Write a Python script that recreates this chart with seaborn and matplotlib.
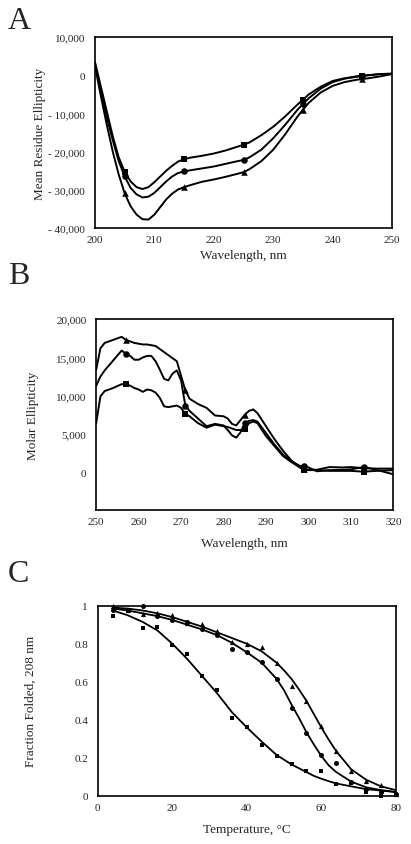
import numpy as np
import pandas as pd
import matplotlib
matplotlib.use("Agg")
import matplotlib.pyplot as plt
import seaborn as sns

############ Data #################
# Panel A - far UV CD spectra
wl_a = [200, 201, 202, 203, 204, 205, 206, 207, 208, 209, 210, 211, 212, 213, 214, 215,
        216, 218, 220, 222, 224, 225, 226, 228, 230, 232, 234, 235, 236, 238, 240, 242,
        244, 245, 246, 248, 250]
a_square = [3500, -3000, -9500, -16000, -21500, -25300, -27800, -29300, -29800, -29300,
            -28000, -26500, -25000, -23700, -22600, -22000, -21600, -21100, -20500, -19700,
            -18700, -18200, -17600, -15700, -13500, -10800, -7800, -6400, -5000, -3000,
            -1500, -800, -300, -100, 0, 300, 400]
a_circle = [3000, -4000, -11000, -17000, -22500, -26500, -29500, -31200, -32000, -31800,
            -30800, -29300, -27800, -26500, -25600, -25200, -24900, -24400, -23900, -23200,
            -22500, -22200, -21500, -19500, -16500, -13000, -9200, -7500, -6000, -3500,
            -1800, -900, -400, -200, 0, 300, 400]
a_triangle = [2500, -5500, -13000, -20000, -26000, -30900, -34300, -36500, -37700, -37800,
              -36500, -34500, -32500, -31000, -29900, -29300, -28800, -27900, -27300, -26600,
              -25800, -25400, -24600, -22500, -19500, -15500, -11000, -9000, -7200, -4500,
              -2800, -1800, -1200, -1000, -800, -300, 300]
a_marks = [205, 215, 225, 235, 245]

# Panel B - near UV CD spectra
wl_b = [250, 251, 252, 254, 256, 257, 258, 259, 260, 261, 262, 263, 264, 265, 266, 267,
        268, 269, 270, 271, 272, 274, 276, 278, 280, 281, 282, 283, 284, 285, 286, 287,
        288, 290, 292, 294, 296, 298, 299, 300, 302, 305, 308, 310, 313, 316, 320]
b_triangle = [13400, 16200, 16900, 17300, 17700, 17300, 17100, 16900, 16800, 16700, 16700,
              16600, 16500, 16100, 15700, 15300, 14900, 14500, 12600, 10700, 9600, 8900,
              8400, 7400, 7300, 7000, 6300, 6100, 6800, 7500, 8000, 8200, 7700, 6000, 4300,
              2800, 1500, 600, 400, 300, 300, 650, 600, 650, 500, 450, 450]
b_circle = [11300, 12500, 13300, 14600, 15900, 15500, 15200, 14700, 14700, 15000, 15200,
            15200, 14500, 13400, 12200, 12000, 12900, 13300, 12000, 8700, 8000, 7000, 6000,
            6300, 6100, 5500, 4800, 4500, 5200, 6400, 6700, 6800, 6600, 5100, 3600, 2300,
            1400, 800, 800, 600, 100, 250, 300, 350, 650, 300, -300]
b_square = [6400, 9900, 10600, 11000, 11500, 11500, 11300, 11000, 10800, 10500, 10800,
            10700, 10400, 9700, 8600, 8500, 8600, 8700, 8400, 7600, 7300, 6400, 5800, 6200,
            6000, 5900, 5700, 5500, 5500, 5600, 6400, 6600, 6400, 4700, 3400, 2100, 1300,
            600, 300, 250, 250, 150, 150, 150, 50, 150, 250]
b_marks = [257, 271, 285, 299, 313]

# Panel C - thermal melts at 208 nm
temp_pts = [4, 8, 12, 16, 20, 24, 28, 32, 36, 40, 44, 48, 52, 56, 60, 64, 68, 72, 76, 80]
c_triangle = [1.0, 0.98, 0.955, 0.96, 0.95, 0.91, 0.905, 0.865, 0.81, 0.80, 0.785, 0.70,
              0.58, 0.50, 0.365, 0.235, 0.13, 0.08, 0.055, 0.01]
c_circle = [0.98, 0.98, 1.0, 0.945, 0.925, 0.915, 0.875, 0.845, 0.77, 0.755, 0.705, 0.615,
            0.46, 0.33, 0.215, 0.175, 0.075, 0.035, 0.02, 0.01]
c_square = [0.945, 0.97, 0.885, 0.89, 0.795, 0.745, 0.63, 0.555, 0.41, 0.36, 0.265, 0.21,
            0.17, 0.13, 0.13, 0.06, 0.07, 0.02, 0.0, 0.005]

# fitted curves
temp_fit = [4, 8, 12, 16, 20, 24, 28, 32, 36, 40, 44, 48, 50, 52, 54, 56, 58, 60, 62, 64,
            68, 72, 76, 80]
fit_triangle = [0.99, 0.985, 0.975, 0.96, 0.94, 0.915, 0.89, 0.86, 0.83, 0.80, 0.76, 0.70,
                0.66, 0.615, 0.56, 0.50, 0.43, 0.36, 0.295, 0.235, 0.14, 0.085, 0.05, 0.03]
fit_circle = [0.985, 0.975, 0.96, 0.945, 0.925, 0.90, 0.875, 0.845, 0.805, 0.755, 0.70,
              0.615, 0.555, 0.48, 0.41, 0.335, 0.27, 0.21, 0.16, 0.125, 0.075, 0.045, 0.03, 0.02]
fit_square = [0.975, 0.95, 0.915, 0.87, 0.80, 0.72, 0.63, 0.54, 0.44, 0.36, 0.285, 0.215,
              0.19, 0.165, 0.145, 0.125, 0.105, 0.09, 0.077, 0.065, 0.05, 0.035, 0.028, 0.02]

########## Style ################
sns.set_style("white")
plt.rcParams['font.family'] = ['Liberation Serif', 'DejaVu Serif']
plt.rcParams['axes.linewidth'] = 1.2

fig = plt.figure(figsize=(4.11, 8.45), dpi=100)
axA = fig.add_axes([0.231, 0.729, 0.723, 0.226])
axB = fig.add_axes([0.234, 0.395, 0.723, 0.226])
axC = fig.add_axes([0.238, 0.057, 0.725, 0.225])

markers = {'square': 's', 'circle': 'o', 'triangle': '^'}
TICK_FS = 8
LABEL_FS = 9.5


def draw_set(ax, x, series, marks, ms):
    for name, y in series.items():
        sns.lineplot(x=x, y=y, ax=ax, color='black', lw=1.4, sort=False, estimator=None)
        idx = [x.index(m) for m in marks]
        sns.scatterplot(x=[x[i] for i in idx], y=[y[i] for i in idx], ax=ax,
                        marker=markers[name], color='black', s=ms, edgecolor='black',
                        linewidth=0, zorder=3)


def style_axes(ax):
    for sp in ax.spines.values():
        sp.set_visible(True)
        sp.set_color('black')
    ax.tick_params(axis='x', direction='in', length=4, width=1, labelsize=TICK_FS, pad=5)
    ax.tick_params(axis='y', direction='out', length=4, width=1, labelsize=TICK_FS, pad=3)
    ax.tick_params(axis='y', which='minor', direction='out', length=4, width=1)


# Panel A
draw_set(axA, wl_a, {'square': a_square, 'circle': a_circle, 'triangle': a_triangle},
         a_marks, 22)
axA.set_xlim(200, 250)
axA.set_ylim(-40000, 10000)
axA.set_xticks([200, 210, 220, 230, 240, 250])
axA.set_yticks([-40000, -30000, -20000, -10000, 0, 10000])
axA.set_yticklabels(['- 40,000', '- 30,000', '- 20,000', '- 10,000', '0', '10,000'])
axA.set_yticks([-35000, -25000, -15000, -5000, 5000], minor=True)
axA.set_xlabel('Wavelength, nm', fontsize=LABEL_FS, labelpad=4)
axA.set_ylabel('Mean Residue Ellipticity', fontsize=LABEL_FS, labelpad=2)
style_axes(axA)

# Panel B
draw_set(axB, wl_b, {'square': b_square, 'circle': b_circle, 'triangle': b_triangle},
         b_marks, 22)
axB.set_xlim(250, 320)
axB.set_ylim(-5000, 20000)
axB.set_xticks([250, 260, 270, 280, 290, 300, 310, 320])
axB.set_yticks([0, 5000, 10000, 15000, 20000])
axB.set_yticklabels(['0', '5,000', '10,000', '15,000', '20,000'])
axB.set_xlabel('Wavelength, nm', fontsize=LABEL_FS, labelpad=8)
axB.set_ylabel('Molar Ellipticity', fontsize=LABEL_FS, labelpad=12)
style_axes(axB)

# Panel C
sizes_c = {'square': 10, 'circle': 13, 'triangle': 14}
for fit in [fit_square, fit_circle, fit_triangle]:
    sns.lineplot(x=temp_fit, y=fit, ax=axC, color='black', lw=1.3, sort=False, estimator=None)
for name, y in {'square': c_square, 'circle': c_circle, 'triangle': c_triangle}.items():
    sns.scatterplot(x=temp_pts, y=y, ax=axC, marker=markers[name], color='black',
                    s=sizes_c[name], edgecolor='black', linewidth=0, zorder=3, clip_on=False)
axC.set_xlim(0, 80)
axC.set_ylim(0, 1)
axC.set_xticks([0, 20, 40, 60, 80])
axC.set_yticks([0, 0.2, 0.4, 0.6, 0.8, 1])
axC.set_yticklabels(['0', '0.2', '0.4', '0.6', '0.8', '1'])
axC.set_xlabel('Temperature, °C', fontsize=LABEL_FS, labelpad=8)
axC.set_ylabel('Fraction Folded, 208 nm', fontsize=LABEL_FS, labelpad=27)
style_axes(axC)

# panel letters
fig.text(0.02, 0.992, 'A', fontsize=23, va='top', ha='left')
fig.text(0.02, 0.690, 'B', fontsize=23, va='top', ha='left')
fig.text(0.02, 0.337, 'C', fontsize=23, va='top', ha='left')

plt.savefig('out.png', dpi=100)
